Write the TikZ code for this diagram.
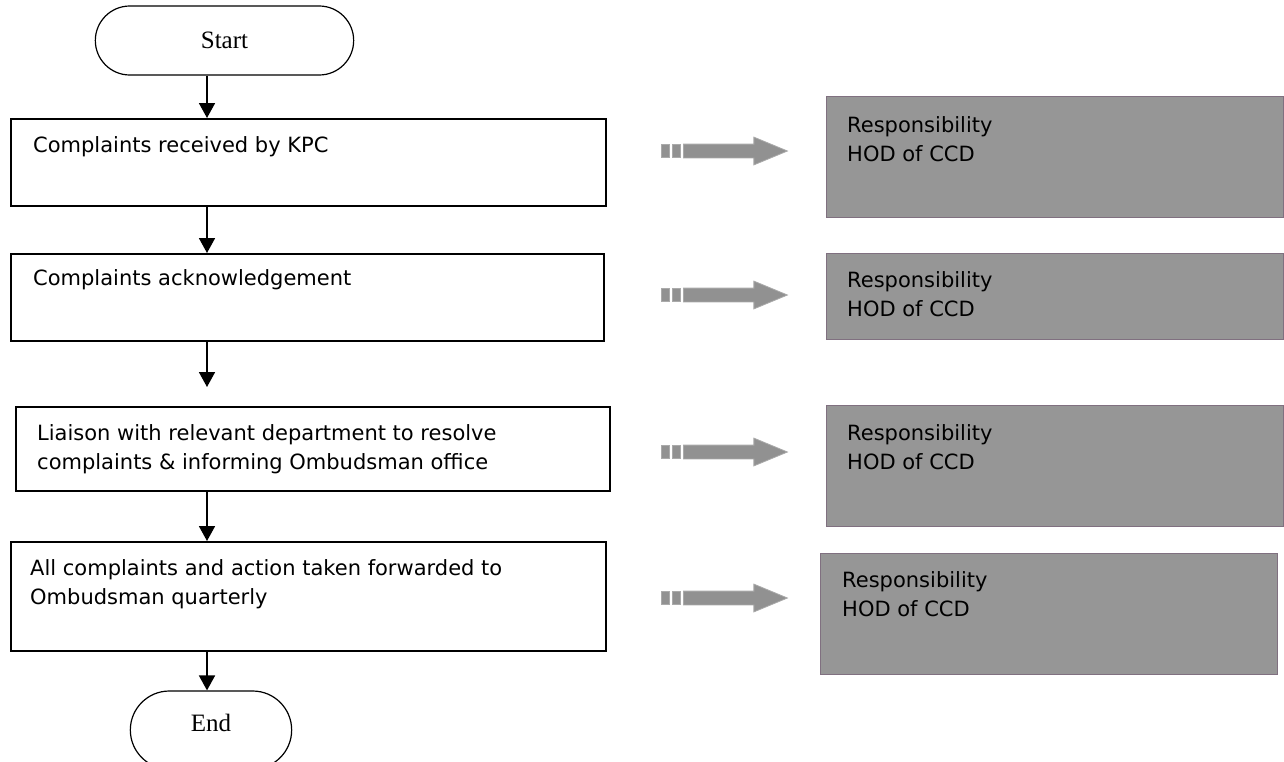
\documentclass[tikz,border=0pt]{standalone}
\usepackage{fontspec}
\newfontfamily\boxfont{DejaVu Sans}
\newfontfamily\termfont{Liberation Serif}
\usetikzlibrary{positioning,shapes.misc,shapes.arrows,arrows.meta}
\definecolor{respgray}{RGB}{150,150,150}
\definecolor{respedge}{RGB}{128,112,128}
\definecolor{stripegray}{RGB}{145,145,145}
\definecolor{stripeedge}{RGB}{170,170,170}

\begin{document}
\begin{tikzpicture}[x=1pt,y=-1pt,
  term/.style={rounded rectangle,draw,line width=1.2pt,minimum width=265pt,minimum height=69pt,font=\termfont\fontsize{25}{30}\selectfont},
  stepbox/.style={rectangle,draw,line width=1.6pt,anchor=north west,inner sep=0pt},
  respbox/.style={rectangle,draw=respedge,fill=respgray,line width=1.4pt,anchor=north west,inner sep=0pt},
  boxtext/.style={anchor=north west,inner sep=0pt,align=left,font=\boxfont\fontsize{21}{29.5}\selectfont},
  resparrow/.style={single arrow,draw=stripeedge,fill=stripegray,line width=0.8pt,inner xsep=0pt,inner ysep=6.5pt,
    minimum height=104pt,minimum width=27pt,single arrow head extend=7pt,single arrow tip angle=45,anchor=tail},
  stripe/.style={rectangle,draw=stripeedge,fill=stripegray,line width=0.8pt,inner sep=0pt,minimum width=8pt,minimum height=13pt},
  flow/.style={-{Triangle[length=15pt,width=16pt]},line width=1.8pt}]
   \useasboundingbox (0,0) rectangle (1284,761);
   \coordinate (spine) at (207,0);
   \coordinate (gap)   at (207,387);

   \node[term]                                           (start)     at (224.5,40.5) {Start};
   \node[stepbox,minimum width=595pt,minimum height=87pt]  (rcv)     at (10,118)  {};
   \node[boxtext]                                        (rcv-t)     at (33,136)  {Complaints received by KPC};
   \node[stepbox,minimum width=593pt,minimum height=87pt]  (ack)     at (10,253)  {};
   \node[boxtext]                                        (ack-t)     at (33,269)  {Complaints acknowledgement};
   \node[stepbox,minimum width=594pt,minimum height=84pt]  (liaison) at (15,406)  {};
   \node[boxtext]                                        (liaison-t) at (37,424)  {Liaison with relevant department to resolve\\complaints \& informing Ombudsman office};
   \node[stepbox,minimum width=595pt,minimum height=109pt] (fwd)     at (10,541)  {};
   \node[boxtext]                                        (fwd-t)     at (30,559)  {All complaints and action taken forwarded to\\Ombudsman quarterly};
   \node[term,minimum width=168pt,minimum height=78pt,text depth=14pt] (end) at (211,730) {End};

   \node[respbox,minimum width=457pt,minimum height=121pt] (resp1)   at (826,96)  {};
   \node[boxtext]                                        (resp1-t)   at (847,116) {Responsibility\\HOD of CCD};
   \node[respbox,minimum width=457pt,minimum height=86pt]  (resp2)   at (826,253) {};
   \node[boxtext]                                        (resp2-t)   at (847,271) {Responsibility\\HOD of CCD};
   \node[respbox,minimum width=457pt,minimum height=121pt] (resp3)   at (826,405) {};
   \node[boxtext]                                        (resp3-t)   at (847,424) {Responsibility\\HOD of CCD};
   \node[respbox,minimum width=457pt,minimum height=121pt] (resp4)   at (820,553) {};
   \node[boxtext]                                        (resp4-t)   at (842,571) {Responsibility\\HOD of CCD};

   \node[resparrow]                (arr1)  at (683,151) {};
   \node[stripe,left=2pt of arr1.tail] (arr1b) {};
   \node[stripe,left=2pt of arr1b]     (arr1a) {};
   \node[resparrow]                (arr2)  at (683,295) {};
   \node[stripe,left=2pt of arr2.tail] (arr2b) {};
   \node[stripe,left=2pt of arr2b]     (arr2a) {};
   \node[resparrow]                (arr3)  at (683,452) {};
   \node[stripe,left=2pt of arr3.tail] (arr3b) {};
   \node[stripe,left=2pt of arr3b]     (arr3a) {};
   \node[resparrow]                (arr4)  at (683,598) {};
   \node[stripe,left=2pt of arr4.tail] (arr4b) {};
   \node[stripe,left=2pt of arr4b]     (arr4a) {};

   \draw[flow] (start.south -| spine)   -- (rcv.north -| spine);
   \draw[flow] (rcv.south -| spine)     -- (ack.north -| spine);
   \draw[flow] (ack.south -| spine)     -- (gap);
   \draw[flow] (liaison.south -| spine) -- (fwd.north -| spine);
   \draw[flow] (fwd.south -| spine)     -- (end.north -| spine);
\end{tikzpicture}
\end{document}
